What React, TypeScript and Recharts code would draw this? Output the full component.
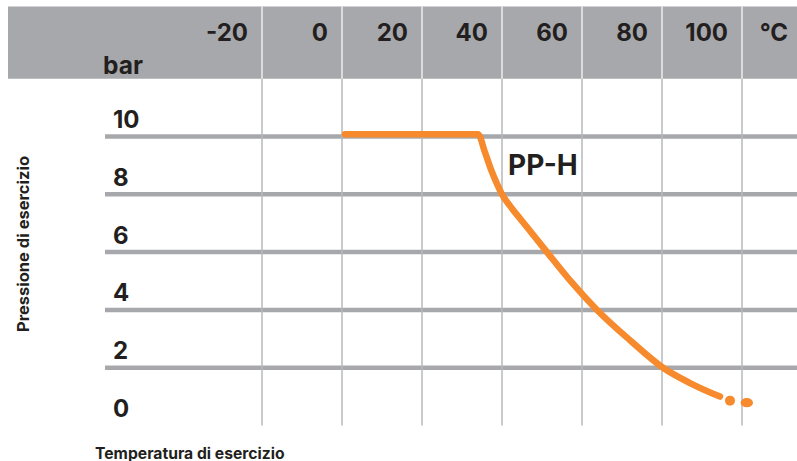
import React from "react";
import {
  ComposedChart,
  Line,
  Scatter,
  XAxis,
  YAxis,
  ReferenceArea,
  ReferenceLine,
  ReferenceDot,
} from "recharts";

// ---- data ----
const temperatures = [0.75, 34, 35.75, 37.25, 38.75, 40, 42, 45, 51.25, 57, 63.75, 72, 80.25, 87, 94.5];
const pressures = [10.08, 10.08, 9.45, 8.86, 8.36, 8.0, 7.6, 7.08, 6.0, 5.02, 4.0, 2.95, 2.0, 1.47, 1.0];
const tailTemperatures = [97, 101.2];
const tailPressures = [0.86, 0.79];

const xTicks = [-20, 0, 20, 40, 60, 80, 100, 115];
const xTickLabels = ["-20", "0", "20", "40", "60", "80", "100", "°C"];
const yTicks = [0, 2, 4, 6, 8, 10];
const yTickLabels = ["0", "2", "4", "6", "8", "10"];
const gridX = [-20, 0, 20, 40, 60, 80, 100];
const gridY = [2, 4, 6, 8, 10];

const unitLabel = "bar";
const seriesName = "PP-H";
const seriesLabelT = 41.5;
const seriesLabelP = 8.67;
const xTitle = "Temperatura di esercizio";
const yTitle = "Pressione di esercizio";

const X_MIN = -83.5;
const X_MAX = 115.75;
const Y_MAX = 14.5;
const HEADER_Y = 12;
const GRID_START_X = -59.25;

const mainData = temperatures.map((t, i) => ({ t, p: pressures[i] }));
const tailData = tailTemperatures.map((t, i) => ({ t, p: tailPressures[i] }));

// ---- styles ----
const FONT = "Inter, 'DejaVu Sans', sans-serif";
const TEXT = "#231f20";
const HEADER_GRAY = "#a7a8ab";
const GRID_GRAY = "#a7a8ab";
const VGRID_GRAY = "#b7b8bb";
const ORANGE = "#f68a2c";

const XTick = (props: any) => {
  const { x, y, payload } = props;
  const idx = xTicks.indexOf(payload.value);
  return (
    <text
      x={x - 14}
      y={y + 34.5}
      textAnchor="end"
      fontFamily={FONT}
      fontSize={24}
      fontWeight={700}
      fill={TEXT}
    >
      {xTickLabels[idx]}
    </text>
  );
};

const YTick = (props: any) => {
  const { x, y, payload } = props;
  const idx = yTicks.indexOf(payload.value);
  return (
    <text
      x={x + 105}
      y={y - 8.5}
      textAnchor="start"
      fontFamily={FONT}
      fontSize={24}
      fontWeight={700}
      fill={TEXT}
    >
      {yTickLabels[idx]}
    </text>
  );
};

const UnitLabel = (props: any) => {
  const { viewBox } = props;
  return (
    <text
      x={viewBox.x + 95}
      y={viewBox.y + viewBox.height - 4.5}
      textAnchor="start"
      fontFamily={FONT}
      fontSize={24.5}
      fontWeight={700}
      fill={TEXT}
    >
      {unitLabel}
    </text>
  );
};

const SeriesLabel = (props: any) => {
  const { viewBox } = props;
  return (
    <text
      x={viewBox.x}
      y={viewBox.y}
      textAnchor="start"
      fontFamily={FONT}
      fontSize={28}
      fontWeight={700}
      fill={TEXT}
    >
      {seriesName}
    </text>
  );
};

const YTitle = (props: any) => {
  const { viewBox } = props;
  const cx = viewBox.x + 16;
  const cy = viewBox.y + 237.5;
  return (
    <text
      x={cx}
      y={cy}
      transform={`rotate(-90 ${cx} ${cy})`}
      textAnchor="middle"
      dominantBaseline="central"
      fontFamily={FONT}
      fontSize={16.5}
      fontWeight={700}
      fill={TEXT}
    >
      {yTitle}
    </text>
  );
};

const XTitle = (props: any) => {
  const { viewBox } = props;
  return (
    <text
      x={viewBox.x + 87}
      y={viewBox.y + viewBox.height - 2.5}
      textAnchor="start"
      fontFamily={FONT}
      fontSize={15.7}
      fontWeight={700}
      fill={TEXT}
    >
      {xTitle}
    </text>
  );
};

const TailDot = (props: any) => {
  const { cx, cy, index } = props;
  if (index === 1) {
    return <ellipse cx={cx} cy={cy} rx={6.2} ry={4.6} fill={ORANGE} />;
  }
  return <circle cx={cx} cy={cy} r={5} fill={ORANGE} />;
};

export default function App() {
  return (
    <div
      style={{
        position: "absolute",
        left: 0,
        top: 0,
        width: 797,
        height: 461,
        overflow: "hidden",
        background: "#fff",
      }}
    >
      <ComposedChart
        width={805}
        height={461}
        margin={{ top: 5.5, right: 0, bottom: 0, left: 7 }}
      >
        <XAxis
          xAxisId="top"
          type="number"
          dataKey="t"
          orientation="top"
          domain={[X_MIN, X_MAX]}
          allowDataOverflow
          ticks={xTicks}
          interval={0}
          height={1}
          tickSize={0}
          tickMargin={0}
          axisLine={false}
          tickLine={false}
          tick={<XTick />}
        />
        <XAxis
          xAxisId="bottom"
          type="number"
          dataKey="t"
          orientation="bottom"
          domain={[X_MIN, X_MAX]}
          allowDataOverflow
          height={35.5}
          axisLine={false}
          tickLine={false}
          tick={false}
          label={<XTitle />}
        />
        <YAxis
          type="number"
          dataKey="p"
          domain={[0, Y_MAX]}
          allowDataOverflow
          ticks={yTicks}
          interval={0}
          width={1}
          tickSize={0}
          tickMargin={0}
          axisLine={false}
          tickLine={false}
          tick={<YTick />}
          label={<YTitle />}
        />

        <ReferenceArea
          xAxisId="top"
          x1={X_MIN}
          x2={X_MAX}
          y1={HEADER_Y}
          y2={Y_MAX}
          fill={HEADER_GRAY}
          fillOpacity={1}
          stroke="none"
          label={<UnitLabel />}
        />

        {gridY.map((v) => (
          <ReferenceLine
            key={`h${v}`}
            xAxisId="top"
            segment={[
              { x: GRID_START_X, y: v },
              { x: X_MAX, y: v },
            ]}
            stroke={GRID_GRAY}
            strokeWidth={4.5}
          />
        ))}

        {gridX.map((v) => (
          <ReferenceLine
            key={`v${v}`}
            xAxisId="top"
            segment={[
              { x: v, y: 0 },
              { x: v, y: HEADER_Y },
            ]}
            stroke={VGRID_GRAY}
            strokeWidth={1.5}
          />
        ))}
        {gridX.map((v) => (
          <ReferenceLine
            key={`w${v}`}
            xAxisId="top"
            segment={[
              { x: v, y: HEADER_Y },
              { x: v, y: Y_MAX },
            ]}
            stroke="#eeeeef"
            strokeWidth={1.5}
          />
        ))}

        <Line
          xAxisId="top"
          data={mainData}
          dataKey="p"
          type="monotone"
          stroke={ORANGE}
          strokeWidth={6.5}
          strokeLinecap="round"
          strokeLinejoin="round"
          dot={false}
          activeDot={false}
          isAnimationActive={false}
        />
        <Scatter
          xAxisId="top"
          data={tailData}
          dataKey="p"
          fill={ORANGE}
          shape={<TailDot />}
          isAnimationActive={false}
        />

        <ReferenceDot
          xAxisId="top"
          x={seriesLabelT}
          y={seriesLabelP}
          r={0}
          fill="none"
          stroke="none"
          label={<SeriesLabel />}
        />
      </ComposedChart>
    </div>
  );
}
